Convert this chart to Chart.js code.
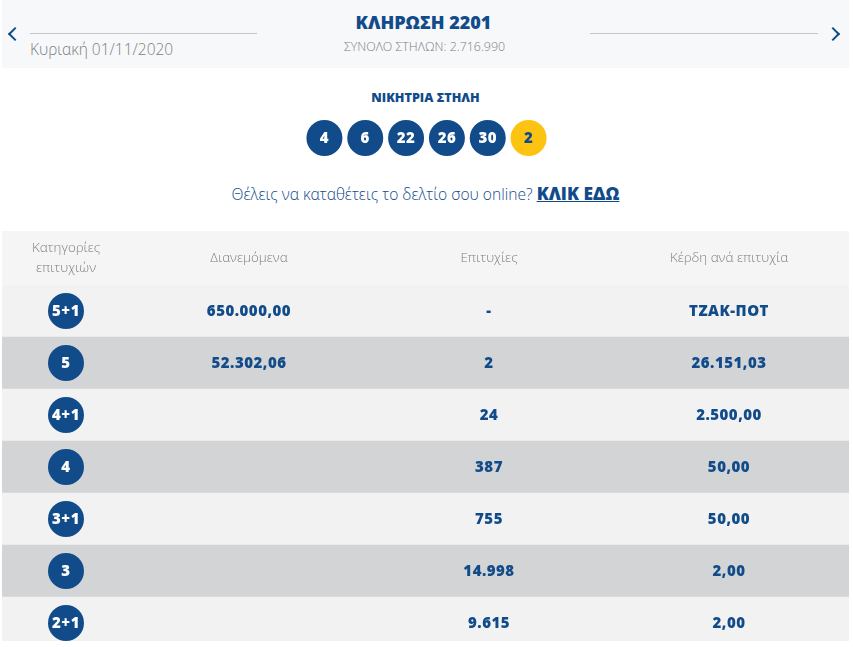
<!DOCTYPE html>
<html lang="el">
<head>
<meta charset="utf-8">
<title>ΚΛΗΡΩΣΗ 2201</title>
<script src="https://cdn.jsdelivr.net/npm/chart.js@4"></script>
<style>
   html, body { margin: 0; padding: 0; background: #fff; overflow: hidden; width: 853px; height: 647px; }
   body { position: relative; font-family: "Open Sans", sans-serif; color: #114b8a; }
   div, canvas { position: absolute; display: block; }
   .band { left: 2px; top: 0; width: 847px; height: 68px; background: #f7f8fa; }
   .rule { top: 33px; height: 1px; background: #c4c5c9; }
   .chevron { top: 29px; width: 8px; height: 8px; border-top: 2px solid #114b8a; border-left: 2px solid #114b8a; }
   .line { left: 0; width: 849px; text-align: center; white-space: nowrap; }
   .prompt a { color: #114b8a; font-size: 17.5px; font-weight: 800; text-decoration: underline; }
   #head { left: 2px; top: 231px; width: 847px; height: 54px; background: #f5f5f5; }
   #table { left: 2px; top: 231px; width: 847px; height: 410px; overflow: hidden; }
</style>
</head>
<body>
   <div class="band"></div>
   <div class="rule" style="left:30px;width:227px"></div>
   <div class="rule" style="left:590px;width:228px"></div>
   <div class="chevron" style="left:10px;transform:rotate(-45deg)"></div>
   <div class="chevron" style="left:828px;transform:rotate(135deg)"></div>
   <div style="left:30px;top:38px;font-size:15.5px;font-weight:300;color:#7d7f82">Κυριακή 01/11/2020</div>
   <div class="line" style="left:-1px;top:10px;font-size:18px;font-weight:800">ΚΛΗΡΩΣΗ 2201</div>
   <div class="line" style="top:38px;font-size:12.4px;font-weight:300;color:#7d7f82">ΣΥΝΟΛΟ ΣΤΗΛΩΝ: 2.716.990</div>
   <div class="line" style="left:1px;top:89px;font-size:12.6px;font-weight:800">ΝΙΚΗΤΡΙΑ ΣΤΗΛΗ</div>
   <canvas id="drawChart" width="245" height="40" style="left:304px;top:118px"></canvas>
   <div class="line prompt" style="left:1px;top:181px;font-size:15.6px;font-weight:300">Θέλεις να καταθέτεις το δελτίο σου online? <a href="#">ΚΛΙΚ ΕΔΩ</a></div>
   <div id="head"></div>
   <div id="table">
      <canvas id="categoryChart" width="128" height="418" style="left:0;top:0"></canvas>
      <canvas id="prizeChart" width="720" height="418" style="left:127px;top:0"></canvas>
   </div>

<script>
// Draw numbers
var winningNumbers = ['4', '6', '22', '26', '30', '2'];

// Table rows and columns
var categories = ['5+1', '5', '4+1', '4', '3+1', '3', '2+1'];
var categoryHeader = ['Κατηγορίες', 'επιτυχιών'];
var columns = ['Διανεμόμενα', 'Επιτυχίες', 'Κέρδη ανά επιτυχία'];
var distributed = ['650.000,00', '52.302,06', null, null, null, null, null];
var winners = ['-', '2', '24', '387', '755', '14.998', '9.615'];
var prizes = ['ΤΖΑΚ-ΠΟΤ', '26.151,03', '2.500,00', '50,00', '50,00', '2,00', '2,00'];
var rowShare = [1, 1, 1, 1, 1, 1, 1];

var BLUE = '#114b8a';
var YELLOW = '#fdc311';
var VALUE_FONT = '800 15px "Open Sans", sans-serif';
var BALL_FONT = '800 15px "Open Sans", sans-serif';
var HEAD_FONT = { family: '"Open Sans", sans-serif', size: 13.4, weight: 300, lineHeight: 1.5 };

Chart.defaults.animation = false;
Chart.defaults.devicePixelRatio = 1;

// writes dataset.texts on top of each point of the dataset
var pointText = {
   id: 'pointText',
   afterDatasetsDraw: function(chart) {
      var ctx = chart.ctx;
      chart.data.datasets.forEach(function(dataset, i) {
         if (!dataset.texts) return;
         chart.getDatasetMeta(i).data.forEach(function(point, j) {
            ctx.save();
            ctx.font = dataset.textFont;
            ctx.letterSpacing = '0.5px';
            ctx.fillStyle = dataset.textColors ? dataset.textColors[j] : dataset.textColor;
            ctx.textAlign = 'center';
            ctx.textBaseline = 'middle';
            ctx.fillText(dataset.texts[j], point.x, point.y + 1);
            ctx.restore();
         });
      });
   }
};

var baseOptions = {
   responsive: false,
   maintainAspectRatio: false,
   indexAxis: 'y',
   events: [],
   // the balls must not shrink the plot area
   layout: { padding: 0, autoPadding: false },
   plugins: { legend: { display: false }, tooltip: { enabled: false } }
};

function stripeDataset() {
   return {
      type: 'bar',
      data: rowShare,
      xAxisID: 'stripe',
      yAxisID: 'y',
      order: 2,
      barPercentage: 1,
      categoryPercentage: 1,
      borderWidth: 0,
      backgroundColor: categories.map(function(c, i) { return i % 2 ? '#d3d4d6' : '#f2f2f2'; })
   };
}

function headerAxis(labels, padding) {
   return {
      type: 'category',
      labels: labels,
      position: 'top',
      offset: true,
      grid: { display: false, drawTicks: false },
      border: { display: false },
      ticks: { color: '#7d7f82', font: HEAD_FONT, padding: padding, maxRotation: 0, autoSkip: false },
      afterFit: function(scale) { scale.height = 54; }
   };
}

function tableScales(labels, padding) {
   return {
      x: headerAxis(labels, padding),
      stripe: { axis: 'x', type: 'linear', min: 0, max: 1, display: false },
      y: { type: 'category', labels: categories, offset: true, display: false }
   };
}

// winning numbers row
new Chart(document.getElementById('drawChart'), {
   type: 'scatter',
   data: {
      datasets: [{
         data: winningNumbers.map(function(n) { return { x: n, y: 0 }; }),
         pointRadius: 18,
         pointBorderWidth: 0,
         clip: false,
         pointBackgroundColor: winningNumbers.map(function(n, i) { return i === 5 ? YELLOW : BLUE; }),
         texts: winningNumbers,
         textFont: BALL_FONT,
         textColors: winningNumbers.map(function(n, i) { return i === 5 ? BLUE : '#fff'; })
      }]
   },
   options: Object.assign({}, baseOptions, {
      indexAxis: 'x',
      scales: {
         x: { type: 'category', labels: winningNumbers, offset: true, display: false },
         y: { type: 'linear', min: -1, max: 1, display: false }
      }
   }),
   plugins: [pointText]
});

// first column: category balls
new Chart(document.getElementById('categoryChart'), {
   type: 'bar',
   data: {
      labels: categories,
      datasets: [stripeDataset(), {
         type: 'scatter',
         order: 1,
         data: categories.map(function(c) { return { x: 0, y: c }; }),
         pointRadius: 18,
         pointBorderWidth: 0,
         pointBackgroundColor: BLUE,
         clip: false,
         texts: categories,
         textFont: BALL_FONT,
         textColor: '#fff'
      }]
   },
   options: Object.assign({}, baseOptions, { scales: tableScales([categoryHeader], 7) }),
   plugins: [pointText]
});

// other columns: amounts and winners
function columnDataset(column, values) {
   return {
      type: 'scatter',
      order: 1,
      data: categories.map(function(c) { return { x: column, y: c }; }),
      pointRadius: 0,
      texts: values.map(function(v) { return v === null ? '' : v; }),
      textFont: VALUE_FONT,
      textColor: BLUE
   };
}

new Chart(document.getElementById('prizeChart'), {
   type: 'bar',
   data: {
      labels: categories,
      datasets: [
         stripeDataset(),
         columnDataset(columns[0], distributed),
         columnDataset(columns[1], winners),
         columnDataset(columns[2], prizes)
      ]
   },
   options: Object.assign({}, baseOptions, { scales: tableScales(columns, 17) }),
   plugins: [pointText]
});
</script>
</body>
</html>
